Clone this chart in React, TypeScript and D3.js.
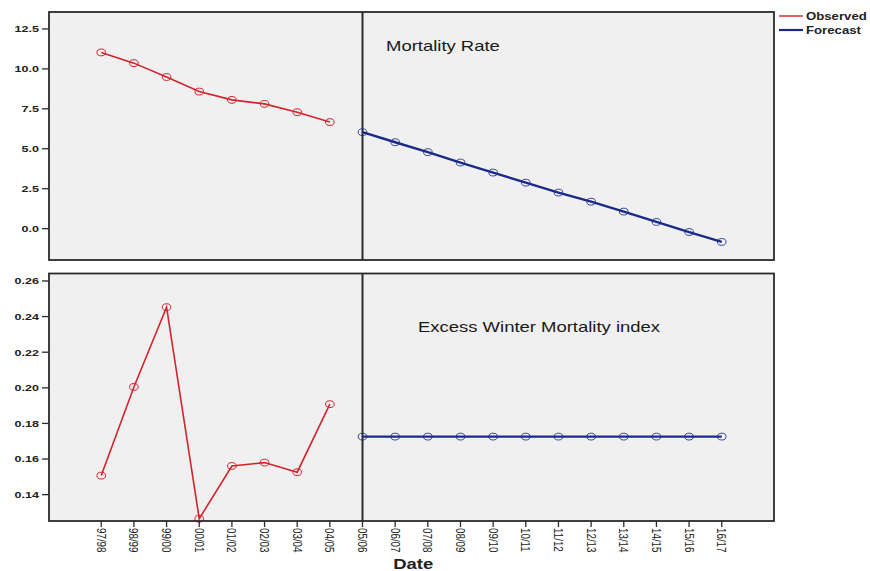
import React from "react";
import * as d3 from "d3";

const categories = ["97/98","98/99","99/00","00/01","01/02","02/03","03/04","04/05","05/06","06/07","07/08","08/09","09/10","10/11","11/12","12/13","13/14","14/15","15/16","16/17"];
const observedCats = ["97/98","98/99","99/00","00/01","01/02","02/03","03/04","04/05"];
const forecastCats = ["05/06","06/07","07/08","08/09","09/10","10/11","11/12","12/13","13/14","14/15","15/16","16/17"];

const mortalityObserved = [11.03, 10.36, 9.49, 8.58, 8.06, 7.81, 7.29, 6.67];
const mortalityForecast = [6.04, 5.41, 4.79, 4.14, 3.51, 2.88, 2.26, 1.69, 1.07, 0.42, -0.21, -0.83];

const ewmObserved = [0.1507, 0.2005, 0.2453, 0.1265, 0.1561, 0.158, 0.1526, 0.1908];
const ewmForecast = [0.1726, 0.1726, 0.1726, 0.1726, 0.1726, 0.1726, 0.1726, 0.1726, 0.1726, 0.1726, 0.1726, 0.1726];

const topTicks = [0, 2.5, 5, 7.5, 10, 12.5];
const topTickLabels = ["0.0", "2.5", "5.0", "7.5", "10.0", "12.5"];
const bottomTicks = [0.14, 0.16, 0.18, 0.2, 0.22, 0.24, 0.26];
const bottomTickLabels = ["0.14", "0.16", "0.18", "0.20", "0.22", "0.24", "0.26"];

const legendLabels = ["Observed", "Forecast"];
const panelTitles = ["Mortality Rate", "Excess Winter Mortality index"];
const xTitle = "Date";
const splitCat = "05/06";

const RED = "#d2232a";
const BLUE = "#1b2a8a";
const FONT = "'Liberation Sans', Arial, sans-serif";
const SX = 1.32;

const L = 49, R = 774;
const topPanel = { y0: 12, y1: 260 };
const botPanel = { y0: 273.5, y1: 521 };

export default function App() {
  const x = d3.scalePoint<string>().domain(categories).range([L, R]).padding(1.6);
  const yTop = d3.scaleLinear().domain([-1.96, 13.56]).range([topPanel.y1, topPanel.y0]);
  const yBot = d3.scaleLinear().domain([0.1252, 0.2642]).range([botPanel.y1, botPanel.y0]);

  const panel = (
    key: string,
    p: { y0: number; y1: number },
    y: d3.ScaleLinear<number, number>,
    ticks: number[],
    tickLabels: string[],
    obs: number[],
    fc: number[],
    title: string,
    titleX: number,
    titleY: number
  ) => {
    const lineGen = d3.line<[string, number]>().x(d => x(d[0]) as number).y(d => y(d[1]));
    const obsPts: [string, number][] = observedCats.map((c, i) => [c, obs[i]]);
    const fcPts: [string, number][] = forecastCats.map((c, i) => [c, fc[i]]);
    const sx = x(splitCat) as number;
    return (
      <g key={key}>
        <rect x={L} y={p.y0} width={R - L} height={p.y1 - p.y0} fill="#f0f0f0" />
        <g transform={`translate(${titleX},${titleY}) scale(${SX},1)`}>
          <text x={0} y={0} fontFamily={FONT} fontSize={14} fill="#1a1a1a">{title}</text>
        </g>
        <line x1={sx} x2={sx} y1={p.y0} y2={p.y1} stroke="#2b2b2b" strokeWidth={2} />
        <path d={lineGen(obsPts) || ""} fill="none" stroke={RED} strokeWidth={1.6} />
        {obsPts.map((d, i) => (
          <ellipse key={"o" + i} cx={x(d[0]) as number} cy={y(d[1])} rx={4.3} ry={3.4} fill="none" stroke={RED} strokeWidth={1} />
        ))}
        <path d={lineGen(fcPts) || ""} fill="none" stroke={BLUE} strokeWidth={2.4} />
        {fcPts.map((d, i) => (
          <ellipse key={"f" + i} cx={x(d[0]) as number} cy={y(d[1])} rx={4.3} ry={3.4} fill="none" stroke={BLUE} strokeWidth={1} opacity={0.85} />
        ))}
        <rect x={L} y={p.y0} width={R - L} height={p.y1 - p.y0} fill="none" stroke="#2b2b2b" strokeWidth={1.8} />
        {ticks.map((t, i) => (
          <g key={"t" + i}>
            <line x1={L - 7} x2={L} y1={y(t)} y2={y(t)} stroke="#2b2b2b" strokeWidth={1.3} />
            <g transform={`translate(${L - 10},${y(t)}) scale(${SX},1)`}>
              <text x={0} y={0} dy="0.35em" textAnchor="end" fontFamily={FONT} fontSize={9.5} fontWeight="bold" fill="#222">{tickLabels[i]}</text>
            </g>
          </g>
        ))}
      </g>
    );
  };

  return (
    <svg width={870} height={571} style={{ position: "absolute", left: 0, top: 0, background: "#fff" }}>
      {panel("top", topPanel, yTop, topTicks, topTickLabels, mortalityObserved, mortalityForecast, panelTitles[0], 386, 51)}
      {panel("bot", botPanel, yBot, bottomTicks, bottomTickLabels, ewmObserved, ewmForecast, panelTitles[1], 418, 332)}
      {categories.map((c) => {
        const cx = x(c) as number;
        return (
          <g key={c}>
            <line x1={cx} x2={cx} y1={botPanel.y1} y2={botPanel.y1 + 6} stroke="#2b2b2b" strokeWidth={1.3} />
            <g transform={`translate(${cx},${botPanel.y1 + 7}) rotate(90) scale(1,${SX})`}>
              <text x={0} y={0} dy="0.35em" fontFamily={FONT} fontSize={9.8} fill="#222">{c}</text>
            </g>
          </g>
        );
      })}
      <g transform={`translate(${(x("03/04") as number + (x("09/10") as number)) / 2 + 18},569) scale(${SX},1)`}>
        <text x={0} y={0} textAnchor="middle" fontFamily={FONT} fontSize={14} fontWeight="bold" fill="#222">{xTitle}</text>
      </g>
      {legendLabels.map((lab, i) => (
        <g key={lab}>
          <line x1={779} x2={803} y1={16 + i * 14} y2={16 + i * 14} stroke={i === 0 ? RED : BLUE} strokeWidth={i === 0 ? 1.4 : 2.2} />
          <g transform={`translate(806,${16 + i * 14}) scale(${SX},1)`}>
            <text x={0} y={0} dy="0.35em" fontFamily={FONT} fontSize={10} fontWeight="bold" fill="#222">{lab}</text>
          </g>
        </g>
      ))}
    </svg>
  );
}
